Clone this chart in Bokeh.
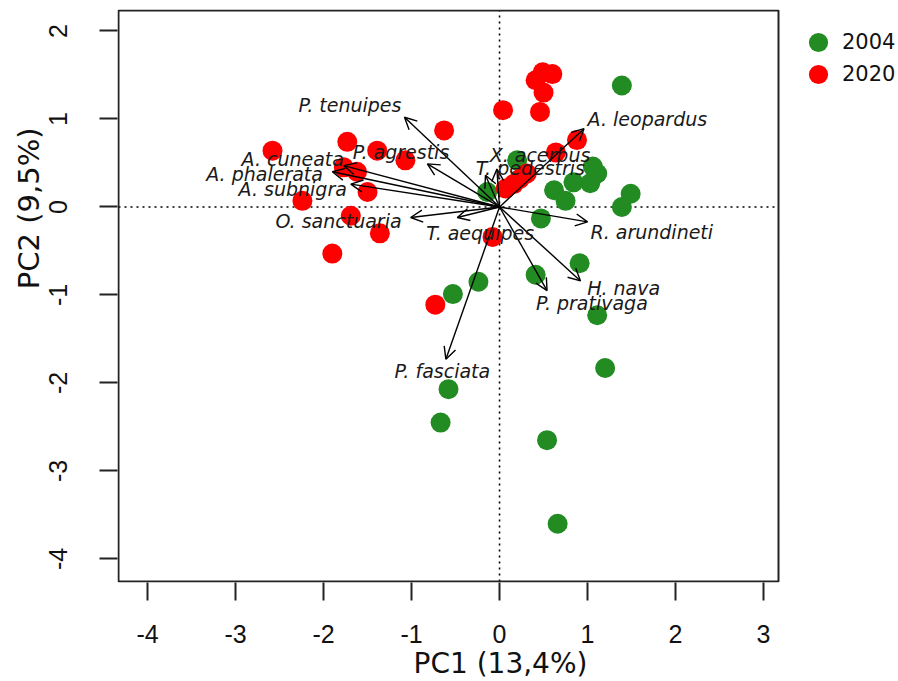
from bokeh.plotting import figure
from bokeh.models import (ColumnDataSource, Range1d, FixedTicker, Arrow, OpenHead,
                          LabelSet, Legend, LegendItem, BoxAnnotation, Title)
from bokeh.core.properties import value
from bokeh.embed import file_html
from bokeh.resources import INLINE

# ---- data ----
x2004 = [1.39, 0.20, -0.14, 1.06, 1.11, 1.03, 0.84, 0.62, 0.75, 1.39, 1.49, 0.47,
         0.91, 0.41, -0.24, -0.53, 1.11, 1.20, -0.58, -0.67, 0.54, 0.66]
y2004 = [1.38, 0.53, 0.17, 0.46, 0.38, 0.27, 0.28, 0.19, 0.07, 0.00, 0.15, -0.13,
         -0.64, -0.77, -0.85, -0.99, -1.23, -1.83, -2.07, -2.45, -2.65, -3.60]

x2020 = [-2.58, -2.24, -1.90, -1.73, -1.77, -1.62, -1.69, -1.50, -1.39, -1.36, -1.07,
         -0.63, -0.73, -0.08, 0.04, 0.41, 0.49, 0.60, 0.50, 0.46, 0.88, 0.64, 0.31,
         0.23, 0.16, 0.07]
y2020 = [0.64, 0.07, -0.53, 0.74, 0.45, 0.40, -0.10, 0.17, 0.64, -0.30, 0.53,
         0.87, -1.11, -0.34, 1.10, 1.44, 1.53, 1.51, 1.30, 1.08, 0.76, 0.62, 0.38,
         0.32, 0.26, 0.21]

species = ["P. tenuipes", "P. agrestis", "A. cuneata", "A. phalerata", "A. subnigra",
           "O. sanctuaria", "T. aequipes", "X. acerbus", "T. pedestris", "A. leopardus",
           "R. arundineti", "H. nava", "P. prativaga", "P. fasciata"]
load_x = [-1.08, -0.82, -1.77, -1.90, -1.69, -1.01, -0.48, -0.03, -0.16, 0.96,
          1.00, 0.92, 0.54, -0.61]
load_y = [1.02, 0.49, 0.47, 0.40, 0.26, -0.12, -0.12, 0.43, 0.36, 0.89,
          -0.17, -0.84, -0.95, -1.73]
label_x = [-1.70, -1.12, -2.35, -2.67, -2.35, -1.83, -0.22, 0.46, 0.35, 1.68,
           1.73, 1.41, 1.05, -0.65]
label_y = [1.16, 0.63, 0.54, 0.38, 0.20, -0.16, -0.30, 0.59, 0.44, 1.00,
           -0.29, -0.92, -1.09, -1.86]

x_ticks = [-4, -3, -2, -1, 0, 1, 2, 3]
y_ticks = [-4, -3, -2, -1, 0, 1, 2]

# plot-box limits (data units)
x_lo, x_hi = -4.33, 3.17
y_lo, y_hi = -4.256, 2.233

green = "#228B22"
red = "#FF0000"

# ---- layout ----
PX = 88.0          # pixels per data unit
PAD = 1.0          # frame padding around the plot box (px)
FRAME_W, FRAME_H = 781, 573
x_start = x_lo - PAD / PX
y_start = y_lo - PAD / PX

p = figure(frame_width=FRAME_W, frame_height=FRAME_H,
           x_range=Range1d(x_start, x_start + FRAME_W / PX),
           y_range=Range1d(y_start, y_start + FRAME_H / PX),
           output_backend="svg", toolbar_location=None,
           min_border_left=117, min_border_right=0, min_border_top=9,
           min_border_bottom=99)

p.grid.visible = False
p.background_fill_color = "white"
p.border_fill_color = "white"
p.outline_line_color = None

# plot box
p.add_layout(BoxAnnotation(left=x_lo, right=x_hi, bottom=y_lo, top=y_hi,
                           fill_alpha=0, line_color="#222222", line_alpha=1.0,
                           line_width=2))

# dotted reference lines (under the points)
p.segment(x0=[x_lo, 0], y0=[0, y_lo], x1=[x_hi, 0], y1=[0, y_hi],
          line_color="black", line_dash="2 4", line_width=1.6)

g = p.scatter(x2004, y2004, size=20, fill_color=green, line_color=None)
r = p.scatter(x2020, y2020, size=20, fill_color=red, line_color=None)

src = ColumnDataSource(dict(x0=[0] * len(load_x), y0=[0] * len(load_y),
                            x1=load_x, y1=load_y))
p.add_layout(Arrow(x_start="x0", y_start="y0", x_end="x1", y_end="y1", source=src,
                   line_color="black", line_width=1.4,
                   end=OpenHead(size=12, line_color="black", line_width=1.4)))

lsrc = ColumnDataSource(dict(x=label_x, y=label_y, t=species))
p.add_layout(LabelSet(x="x", y="y", text="t", source=lsrc, text_align="center",
                      text_baseline="middle", text_font=value("DejaVu Sans"),
                      text_font_style="italic", text_font_size="19px",
                      text_color="#1a1a1a"))

# axes
for ax in (p.xaxis[0], p.yaxis[0]):
    ax.axis_line_color = None
    ax.major_tick_out = 18
    ax.major_tick_in = 0
    ax.minor_tick_out = 0
    ax.minor_tick_in = 0
    ax.major_tick_line_color = "#222222"
    ax.major_tick_line_width = 2
    ax.major_label_text_font = "Liberation Sans"
    ax.major_label_text_font_size = "25px"
    ax.major_label_text_color = "#111111"

p.xaxis.ticker = FixedTicker(ticks=x_ticks)
p.yaxis.ticker = FixedTicker(ticks=y_ticks)
p.xaxis.major_label_overrides = {t: str(t) for t in x_ticks}
p.yaxis.major_label_overrides = {t: str(t) for t in y_ticks}
p.xaxis.major_label_standoff = 24
p.yaxis.major_label_standoff = 32
p.yaxis.major_label_orientation = "vertical"

# axis titles
p.add_layout(Title(text="PC2 (9,5%)", align="right", offset=118, standoff=0,
                   vertical_align="middle", text_font="DejaVu Sans",
                   text_font_size="29px", text_font_style="normal",
                   text_color="#111111"), "left")
p.add_layout(Title(text="PC1 (13,4%)", align="left", offset=296, standoff=0,
                   vertical_align="middle", text_font="DejaVu Sans",
                   text_font_size="28px", text_font_style="normal",
                   text_color="#111111"), "below")

# legend (one box per entry, placed to the right of the plot box)
common = dict(glyph_width=48, glyph_height=48, label_standoff=0, padding=0, margin=0,
              border_line_color=None, background_fill_alpha=0,
              label_text_font="DejaVu Sans", label_text_font_size="21px",
              label_text_color="#111111")
p.add_layout(Legend(items=[LegendItem(label="2004", renderers=[g])],
                    location=(677, 516), **common))
p.add_layout(Legend(items=[LegendItem(label="2020", renderers=[r])],
                    location=(677, 484), **common))

open("out.html", "w").write(file_html(p, INLINE))
